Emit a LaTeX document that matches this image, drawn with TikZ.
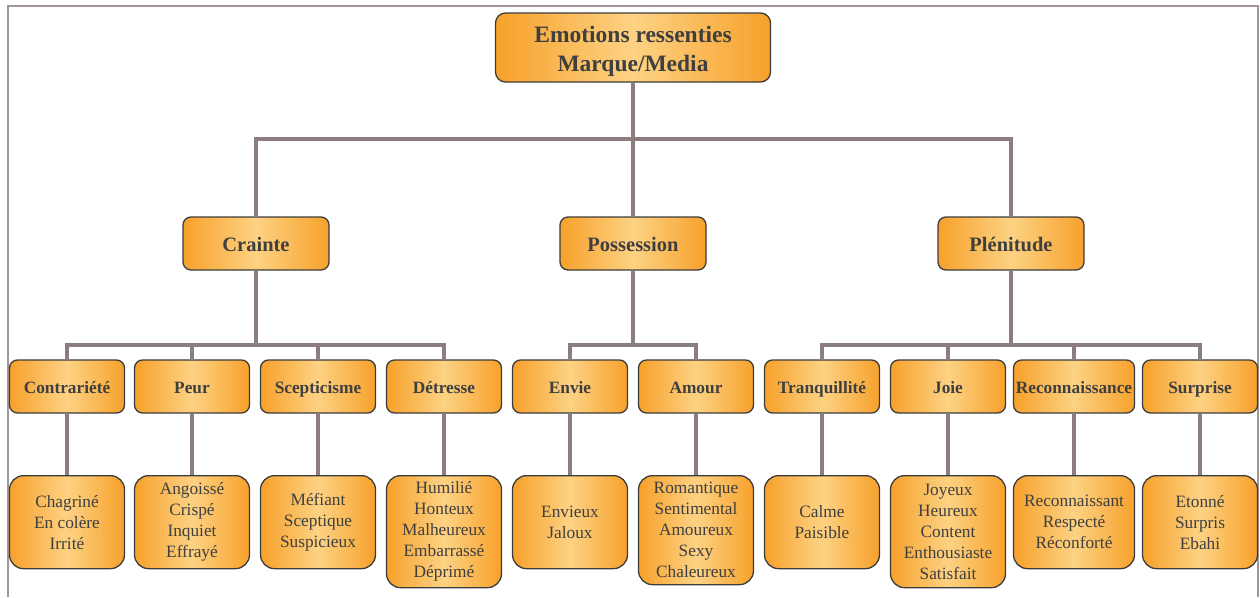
\documentclass[tikz,border=0pt]{standalone}
\usepackage{fontspec}
\setmainfont{Liberation Serif}
\usetikzlibrary{backgrounds}
\definecolor{edgeor}{HTML}{F7A12B}
\definecolor{midor}{HTML}{FDD283}
\definecolor{bordc}{HTML}{3C3C3C}
\definecolor{txtc}{HTML}{3F3F3F}
\definecolor{connc}{HTML}{8C7E7E}
\definecolor{framec}{HTML}{A49696}
\tikzset{
  obox/.style={draw=bordc, line width=1.3pt, left color=edgeor, right color=edgeor, middle color=midor,
    text=txtc, align=center, inner sep=2pt},
  rootbox/.style={obox, rounded corners=10pt, minimum width=275pt, minimum height=69pt,
    font=\fontsize{23.5}{28.5}\selectfont\bfseries},
  lvtwo/.style={obox, rounded corners=8pt, minimum width=146pt, minimum height=53pt,
    text height=19pt, text depth=4pt,
    font=\fontsize{20.5}{24}\selectfont\bfseries},
  lvthree/.style={obox, rounded corners=8pt, minimum width=115pt, minimum height=53pt,
    text height=17pt, text depth=3.5pt,
    font=\fontsize{17.3}{20}\selectfont\bfseries},
  leaf/.style={obox, rounded corners=14pt, minimum width=115pt, minimum height=93pt,
    font=\fontsize{17.3}{21}\selectfont, anchor=north},
  tall/.style={minimum height=112pt},
  conn/.style={draw=connc, line width=4pt},
}
\begin{document}
\begin{tikzpicture}[x=1pt,y=1pt]
\useasboundingbox (0,0) rectangle (1260,-597);
\draw[framec, line width=2pt] (8,-597) -- (8,-6) -- (1258,-6) -- (1258,-597);

\node[rootbox] (root) at (633,-47.5) {\rule{0pt}{24pt}Emotions ressenties\\[1pt]Marque/Media};

\node[lvtwo] (crainte) at (256,-243.5) {Crainte};
\node[lvtwo] (possession) at (633,-243.5) {Possession};
\node[lvtwo] (plenitude) at (1011,-243.5) {Plénitude};

\node[lvthree] (contrariete) at (67,-386.5) {Contrariété};
\node[lvthree] (peur) at (192,-386.5) {Peur};
\node[lvthree] (scepticisme) at (318,-386.5) {Scepticisme};
\node[lvthree] (detresse) at (444,-386.5) {Détresse};
\node[lvthree] (envie) at (570,-386.5) {Envie};
\node[lvthree] (amour) at (696,-386.5) {Amour};
\node[lvthree] (tranquillite) at (822,-386.5) {Tranquillité};
\node[lvthree] (joie) at (948,-386.5) {Joie};
\node[lvthree, minimum width=121pt] (reconnaissance) at (1074,-386.5) {Reconnaissance};
\node[lvthree] (surprise) at (1200,-386.5) {Surprise};

\node[leaf] (l1) at (67,-475) {Chagriné\\En colère\\Irrité};
\node[leaf] (l2) at (192,-475) {Angoissé\\Crispé\\Inquiet\\Effrayé};
\node[leaf] (l3) at (318,-475) {Méfiant\\Sceptique\\Suspicieux};
\node[leaf, tall] (l4) at (444,-475) {Humilié\\Honteux\\Malheureux\\Embarrassé\\Déprimé};
\node[leaf] (l5) at (570,-475) {Envieux\\Jaloux};
\node[leaf, minimum height=109pt] (l6) at (696,-475) {Romantique\\Sentimental\\Amoureux\\Sexy\\Chaleureux};
\node[leaf] (l7) at (822,-475) {Calme\\Paisible};
\node[leaf, tall] (l8) at (948,-475) {Joyeux\\Heureux\\Content\\Enthousiaste\\Satisfait};
\node[leaf, minimum width=121pt] (l9) at (1074,-475) {Reconnaissant\\Respecté\\Réconforté};
\node[leaf] (l10) at (1200,-475) {Etonné\\Surpris\\Ebahi};

\coordinate (j0) at (633,-139);
\coordinate (j1) at (256,-345);
\coordinate (j2) at (633,-345);
\coordinate (j3) at (1011,-345);

\begin{scope}[on background layer]
\draw[conn] (root.south) -- (j0);
\draw[conn] (j0) -| (crainte.north);
\draw[conn] (j0) -| (plenitude.north);
\draw[conn] (j0) -- (possession.north);

\draw[conn] (crainte.south) -- (j1);
\draw[conn] (j1) -| (contrariete.north);
\draw[conn] (j1) -| (detresse.north);
\draw[conn] (peur.north) |- (j1);
\draw[conn] (scepticisme.north) |- (j1);

\draw[conn] (possession.south) -- (j2);
\draw[conn] (j2) -| (envie.north);
\draw[conn] (j2) -| (amour.north);

\draw[conn] (plenitude.south) -- (j3);
\draw[conn] (j3) -| (tranquillite.north);
\draw[conn] (j3) -| (surprise.north);
\draw[conn] (joie.north) |- (j3);
\draw[conn] (reconnaissance.north) |- (j3);

\draw[conn] (contrariete.south) -- (l1.north);
\draw[conn] (peur.south) -- (l2.north);
\draw[conn] (scepticisme.south) -- (l3.north);
\draw[conn] (detresse.south) -- (l4.north);
\draw[conn] (envie.south) -- (l5.north);
\draw[conn] (amour.south) -- (l6.north);
\draw[conn] (tranquillite.south) -- (l7.north);
\draw[conn] (joie.south) -- (l8.north);
\draw[conn] (reconnaissance.south) -- (l9.north);
\draw[conn] (surprise.south) -- (l10.north);
\end{scope}
\end{tikzpicture}
\end{document}
